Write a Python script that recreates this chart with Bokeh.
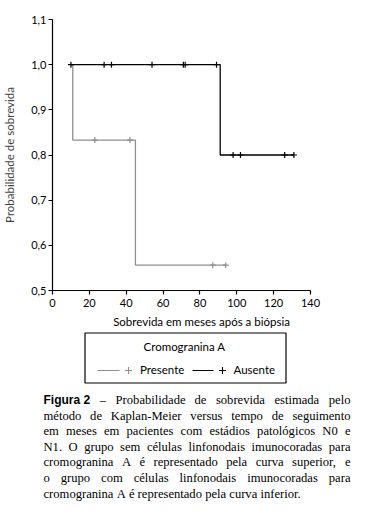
from bokeh.plotting import figure
from bokeh.models import Range1d, FixedTicker
from bokeh.layouts import column, row
from bokeh.embed import file_html
from bokeh.resources import INLINE
from bokeh.core.properties import value

# ---------------- data ----------------
x_ticks = [0, 20, 40, 60, 80, 100, 120, 140]
y_ticks = [0.5, 0.6, 0.7, 0.8, 0.9, 1.0, 1.1]
y_tick_labels = ["0,5", "0,6", "0,7", "0,8", "0,9", "1,0", "1,1"]

ausente_time = [10, 91, 131]
ausente_surv = [1.0, 0.8, 0.8]
ausente_censor = [10, 28, 32, 54, 71, 72, 89, 98, 102, 126, 131]

presente_time = [10, 11, 45, 94]
presente_surv = [1.0, 0.833, 0.556, 0.556]
presente_censor = [23, 42, 87, 94]

x_title = "Sobrevida em meses após a biópsia"
y_title = "Probabilidade de sobrevida"
legend_title = "Cromogranina A"
series_names = ["Presente", "Ausente"]

caption_bold = "Figura 2"
caption_lines = [
    "– Probabilidade de sobrevida estimada pelo",
    "método de Kaplan-Meier versus tempo de seguimento",
    "em meses em pacientes com estádios patológicos N0 e",
    "N1. O grupo sem células linfonodais imunocoradas para",
    "cromogranina A é representado pela curva superior, e",
    "o grupo com células linfonodais imunocoradas para",
    "cromogranina A é representado pela curva inferior.",
]

GRAY = "#8f8f8f"
BLACK = "#000000"
SANS = "Lato"


def surv_at(times, surv, t):
    s = surv[0]
    for ti, si in zip(times, surv):
        if ti <= t:
            s = si
    return s


# ---------------- chart ----------------
W = 373
H1 = 331
FL, FT, FH = 52, 19, 271
FR = 23
FW = W - FL - FR
X_END = 140 * FW / 258.0

p = figure(width=W, height=H1, x_range=Range1d(0, X_END), y_range=Range1d(0.5, 1.1),
           output_backend="svg", toolbar_location=None,
           min_border_left=FL, min_border_right=FR,
           min_border_top=FT, min_border_bottom=H1 - FT - FH)
p.outline_line_color = None
p.grid.visible = False

for ax in (p.xaxis[0], p.yaxis[0]):
    ax.axis_line_color = BLACK
    ax.axis_line_width = 1.2
    ax.major_tick_line_color = BLACK
    ax.major_tick_line_width = 1.2
    ax.major_tick_out = 4
    ax.major_tick_in = 0
    ax.minor_tick_line_color = None
    ax.major_label_text_font = SANS
    ax.major_label_text_font_size = "11px"
    ax.major_label_text_color = BLACK
    ax.axis_label_text_font = SANS
    ax.axis_label_text_font_size = "11.5px"
    ax.axis_label_text_font_style = "normal"

p.xaxis.ticker = FixedTicker(ticks=x_ticks)
p.xaxis.bounds = (x_ticks[0], x_ticks[-1])
p.xaxis.axis_label = x_title
p.xaxis.axis_label_text_color = BLACK
p.xaxis.major_label_standoff = 4
p.xaxis.axis_label_standoff = 5

p.yaxis.ticker = FixedTicker(ticks=y_ticks)
p.yaxis.major_label_overrides = {t: l for t, l in zip(y_ticks, y_tick_labels)}
p.yaxis.axis_label = y_title
p.yaxis.axis_label_text_color = "#444444"
p.yaxis.major_label_standoff = 2
p.yaxis.axis_label_standoff = 12

p.step(presente_time, presente_surv, mode="after", line_color=GRAY, line_width=1.3)
p.scatter(presente_censor, [surv_at(presente_time, presente_surv, t) for t in presente_censor],
          marker="cross", size=6, line_color=GRAY, line_width=1.2)
p.step(ausente_time, ausente_surv, mode="after", line_color=BLACK, line_width=1.3)
p.scatter(ausente_censor, [surv_at(ausente_time, ausente_surv, t) for t in ausente_censor],
          marker="cross", size=6, line_color=BLACK, line_width=1.2)

# ---------------- legend + caption (page pixel coordinates) ----------------
H2 = 185
TOP = H1
q = figure(width=W, height=H2, x_range=Range1d(0, W), y_range=Range1d(TOP + H2, TOP),
           output_backend="svg", toolbar_location=None, x_axis_type=None, y_axis_type=None,
           min_border=0)
q.outline_line_color = None
q.grid.visible = False

q.quad(left=[84.5], right=[285.5], top=[332.5], bottom=[382.5],
       fill_color=None, line_color=BLACK, line_width=1.2)
q.text(x=[184], y=[346], text=[legend_title], text_align="center",
       text_baseline="alphabetic", text_font=value(SANS), text_font_size="11.5px",
       text_color=BLACK)
q.segment(x0=[97], y0=[370], x1=[119], y1=[370], line_color=GRAY, line_width=1.2)
q.scatter(x=[128], y=[370], marker="cross", size=7, line_color=GRAY, line_width=1.1)
q.text(x=[139.5], y=[368.5], text=[series_names[0]], text_font=value(SANS),
       text_font_size="11.5px", text_color=BLACK, text_baseline="alphabetic")
q.segment(x0=[192], y0=[370], x1=[213], y1=[370], line_color=BLACK, line_width=1.2)
q.scatter(x=[222], y=[370], marker="cross", size=7, line_color=BLACK, line_width=1.1)
q.text(x=[233], y=[368.5], text=[series_names[1]], text_font=value(SANS),
       text_font_size="11.5px", text_color=BLACK, text_baseline="alphabetic")

# justified caption: word placement using Times / Arial-Bold metrics
TIMES = dict(a=444, b=500, c=444, d=500, e=444, f=333, g=500, h=500, i=278, j=278, k=500,
             l=278, m=778, n=500, o=500, p=500, q=500, r=333, s=389, t=278, u=500, v=500,
             w=722, x=500, y=500, z=444)
TIMES.update({"é": 444, "á": 444, "ó": 500, "A": 722, "K": 722, "M": 889, "N": 722,
              "O": 722, ".": 250, ",": 250, "-": 333, "–": 500, " ": 250})
for d in "0123456789":
    TIMES[d] = 500
ARIALB = {"F": 611, "i": 278, "g": 611, "u": 611, "r": 389, "a": 556, " ": 278, "2": 556}

CAP_FS = 12.6
BOLD_FS = 12.0
CAP_L, CAP_R = 43.0, 350.0
BASE0, LEAD = 399.5, 15.6


def wid(s, table, fs):
    return sum(table.get(ch, 500) for ch in s) * fs / 1000.0


nx, ny, nt = [], [], []
bx, by, bt = [], [], []
for li, line in enumerate(caption_lines):
    yb = BASE0 + li * LEAD
    words = line.split(" ")
    widths = [wid(w, TIMES, CAP_FS) for w in words]
    lead_w = 0.0
    n_tokens = len(words)
    if li == 0:
        lead_w = wid(caption_bold, ARIALB, BOLD_FS)
        n_tokens += 1
    total = lead_w + sum(widths)
    last = li == len(caption_lines) - 1
    gap = CAP_FS * 0.25 if last else (CAP_R - CAP_L - total) / (n_tokens - 1)
    x = CAP_L
    if li == 0:
        bx.append(x); by.append(yb); bt.append(caption_bold)
        x += lead_w + gap
    for w, ww in zip(words, widths):
        nx.append(x); ny.append(yb); nt.append(w)
        x += ww + gap

q.text(x=nx, y=ny, text=nt, text_font=value("Liberation Serif"), text_font_size="12.6px",
       text_color=BLACK, text_baseline="alphabetic")
q.text(x=bx, y=by, text=bt, text_font=value("Liberation Sans"), text_font_size="12px",
       text_font_style="bold", text_color=BLACK, text_baseline="alphabetic")

layout = column(p, row(q), spacing=0)
open("out.html", "w").write(file_html(layout, INLINE))
